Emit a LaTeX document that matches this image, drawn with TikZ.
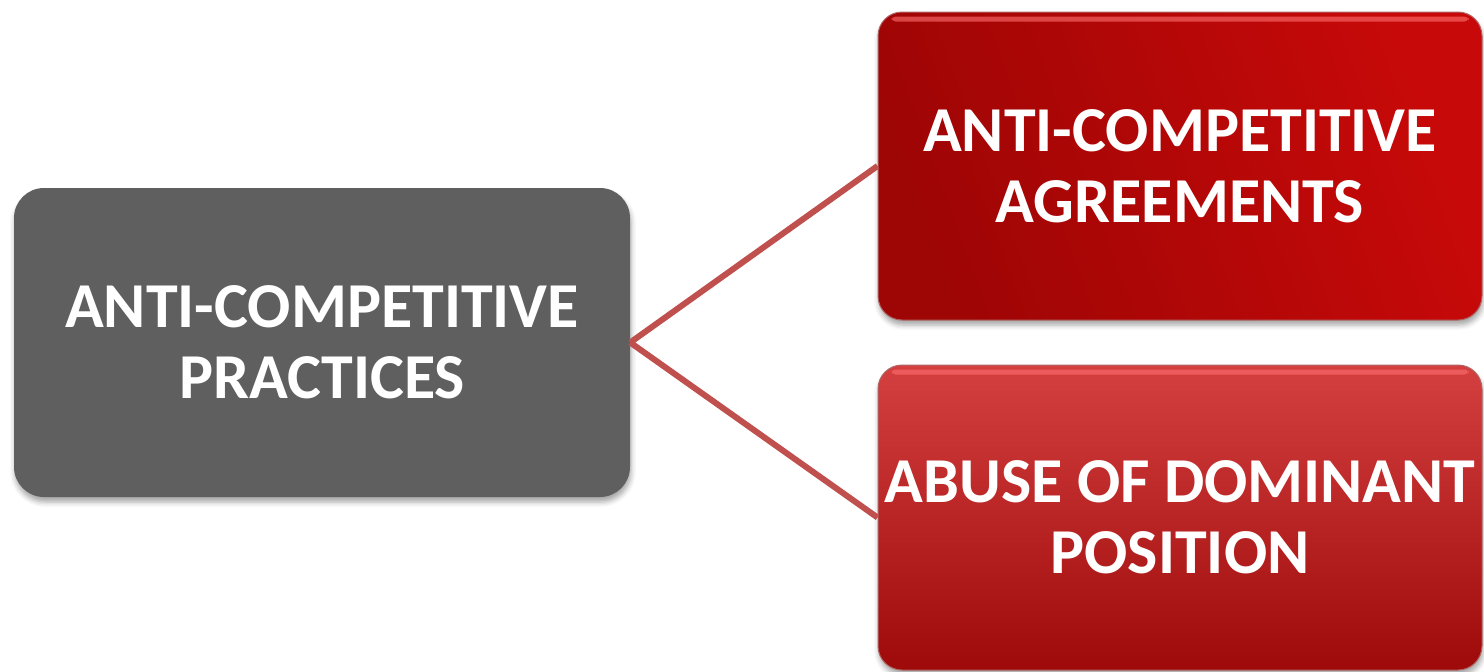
\documentclass[tikz,border=0pt]{standalone}
\usepackage{fontspec}
\setmainfont{Carlito}
\usetikzlibrary{shadows.blur,calc}
\definecolor{boxgray}{HTML}{5F5F5F}
\definecolor{linkred}{HTML}{C0504D}
\definecolor{agrdark}{HTML}{9E0505}
\definecolor{agrlight}{HTML}{C80909}
\definecolor{abusetop}{HTML}{D43F3F}
\definecolor{abusebot}{HTML}{9E0909}
\definecolor{rimlight}{HTML}{FF7070}
\definecolor{rimdark}{HTML}{7A0000}
\begin{document}
\begin{tikzpicture}[x=1pt,y=-1pt,
  boxtext/.style={text=white, align=center, inner sep=0pt,
    font=\fontsize{64}{71}\selectfont\bfseries},
  dropshadow/.style={blur shadow={shadow xshift=1pt, shadow yshift=-5pt,
    shadow blur radius=5pt, shadow opacity=35}},
  graybox/.style={boxtext, fill=boxgray, rounded corners=30pt,
    minimum width=616pt, minimum height=309pt, dropshadow},
  redbox/.style={boxtext, rounded corners=24pt, draw=rimdark!60,
    line width=1pt, dropshadow},
  link/.style={draw=linkred, line width=6pt}
]
\useasboundingbox (0,0) rectangle (1484,672);

% source box
\node[graybox] (src) at (322,342.5) {ANTI-COMPETITIVE\\PRACTICES};

% target boxes
\node[redbox, minimum width=604pt, minimum height=308pt,
      left color=agrdark, right color=agrlight, shading angle=110]
      (agr) at (1180,166) {ANTI-COMPETITIVE\\AGREEMENTS};
\node[redbox, minimum width=604pt, minimum height=305pt,
      top color=abusetop, bottom color=abusebot]
      (abuse) at (1180,517.5) {ABUSE OF DOMINANT\\POSITION};

% glossy rim along the top edge of each red box
\foreach \b in {agr,abuse}{
  \fill[rimlight, opacity=0.6, rounded corners=4pt]
    ($(\b.north west)+(14,5)$) rectangle ($(\b.north east)+(-14,10)$);
}

% connectors
\draw[link] (src.east) -- (agr.west);
\draw[link] (src.east) -- (abuse.west);
\end{tikzpicture}
\end{document}
